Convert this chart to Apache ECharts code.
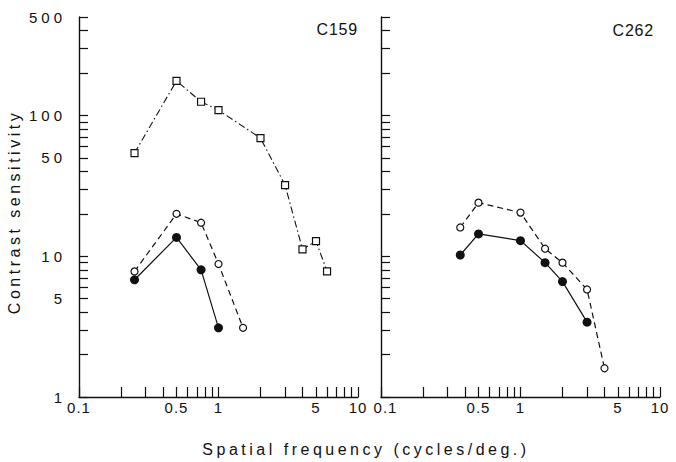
<!DOCTYPE html>
<html>
<head>
<meta charset="utf-8">
<script src="https://cdn.jsdelivr.net/npm/echarts@6/dist/echarts.min.js"></script>
<style>
  html, body { margin: 0; padding: 0; background: #fff; }
  #chart { width: 676px; height: 462px; }
  #chart text { letter-spacing: 1px; }
  #chart text[text-anchor="end"] { letter-spacing: 4px; }
</style>
</head>
<body>
<div id="chart"></div>
<script>
// Cell C159 (left panel)
const c159SquareFreq = [0.25, 0.5, 0.75, 1, 2, 3, 4, 5, 6];
const c159SquareSens = [54, 176, 125, 109, 69, 32, 11.2, 12.8, 7.8];
const c159OpenFreq = [0.25, 0.5, 0.75, 1, 1.5];
const c159OpenSens = [7.8, 20, 17.3, 8.8, 3.1];
const c159FilledFreq = [0.25, 0.5, 0.75, 1];
const c159FilledSens = [6.8, 13.6, 8.0, 3.1];

// Cell C262 (right panel)
const c262OpenFreq = [0.37, 0.5, 1, 1.5, 2, 3, 4];
const c262OpenSens = [16, 24, 20.4, 11.3, 9.0, 5.8, 1.6];
const c262FilledFreq = [0.37, 0.5, 1, 1.5, 2, 3];
const c262FilledSens = [10.2, 14.4, 12.9, 9.0, 6.6, 3.4];

// Tick labels
const freqLabels = [0.1, 0.5, 1, 5, 10];
const sensLabels = [1, 5, 10, 50, 100, 500];
const panelNames = ['C159', 'C262'];
const xTitle = 'Spatial frequency (cycles/deg.)';
const yTitle = 'Contrast sensitivity';

// log-cycle tick marks: 1..9 times each decade, clipped to hi
function logTicks(loExp, hiExp, hi) {
  const out = [];
  for (let e = loExp; e <= hiExp; e++) {
    for (let k = 1; k <= 9; k++) {
      const v = e < 0 ? k / Math.pow(10, -e) : k * Math.pow(10, e);
      if (v <= hi + 1e-9) out.push(v);
    }
  }
  return out;
}
const freqTicks = logTicks(-1, 1, 10);
const sensTicks = logTicks(0, 2, 500);

const INK = '#111';
const FONT = 'Liberation Sans, Arial, sans-serif';
const fmt = v => String(+Number(v).toPrecision(3));
// the right panel's first label is nudged off the left panel's "10"
const fmtRight = v => (Math.abs(v - freqLabels[0]) < 1e-9 ? '{first|' + fmt(v) + '}' : fmt(v));

function xAxisFor(grid) {
  return {
    type: 'log', logBase: 10, gridIndex: grid, min: 0.1, max: 10,
    axisLine: { lineStyle: { color: INK, width: 1.4 } },
    axisTick: { inside: true, length: 10, customValues: freqTicks, lineStyle: { color: INK, width: 1.2 } },
    axisLabel: {
      customValues: freqLabels, formatter: grid === 0 ? fmt : fmtRight,
      color: INK, fontSize: 15, fontFamily: FONT, margin: 3,
      rich: { first: { color: INK, fontSize: 15, fontFamily: FONT, padding: [0, 0, 0, 9] } }
    },
    splitLine: { show: false }
  };
}
function yAxisFor(grid, labels) {
  return {
    type: 'log', logBase: 10, gridIndex: grid, min: 1, max: 500,
    axisLine: { lineStyle: { color: INK, width: 1.4 } },
    axisTick: { inside: true, length: 9, customValues: sensTicks, lineStyle: { color: INK, width: 1.2 } },
    axisLabel: { show: labels, customValues: sensLabels, formatter: fmt, color: INK, fontSize: 15, fontFamily: FONT, margin: 13 },
    splitLine: { show: false }
  };
}

const zip = (xs, ys) => xs.map((x, i) => [x, ys[i]]);

function squares(grid, xs, ys) {
  return {
    type: 'line', xAxisIndex: grid, yAxisIndex: grid, data: zip(xs, ys),
    symbol: 'rect', symbolSize: 7,
    itemStyle: { color: '#fff', borderColor: INK, borderWidth: 1.2 },
    lineStyle: { color: INK, width: 1.1, type: [7, 3, 1.5, 3] }, z: 3
  };
}
function openCircles(grid, xs, ys) {
  return {
    type: 'line', xAxisIndex: grid, yAxisIndex: grid, data: zip(xs, ys),
    symbol: 'circle', symbolSize: 7,
    itemStyle: { color: '#fff', borderColor: INK, borderWidth: 1.2 },
    lineStyle: { color: INK, width: 1.2, type: [6, 4] }, z: 3
  };
}
function filledCircles(grid, xs, ys) {
  return {
    type: 'line', xAxisIndex: grid, yAxisIndex: grid, data: zip(xs, ys),
    symbol: 'circle', symbolSize: 9,
    itemStyle: { color: INK, borderColor: INK, borderWidth: 0 },
    lineStyle: { color: INK, width: 1.2, type: 'solid' }, z: 4
  };
}

function label(text, x, y, size, align, rotation) {
  return {
    type: 'text', x: x, y: y, rotation: rotation || 0,
    style: {
      text: text, fill: INK, font: size + 'px ' + FONT,
      align: align, verticalAlign: 'middle',
      textAlign: align, textVerticalAlign: 'middle'
    }
  };
}

const chart = echarts.init(document.getElementById('chart'), null, { renderer: 'svg' });
chart.setOption({
  animation: false,
  backgroundColor: '#fff',
  grid: [
    { left: 79, top: 17, width: 279, height: 380 },
    { left: 381, top: 17, width: 279, height: 380 }
  ],
  xAxis: [xAxisFor(0), xAxisFor(1)],
  yAxis: [yAxisFor(0, true), yAxisFor(1, false)],
  series: [
    squares(0, c159SquareFreq, c159SquareSens),
    openCircles(0, c159OpenFreq, c159OpenSens),
    filledCircles(0, c159FilledFreq, c159FilledSens),
    openCircles(1, c262OpenFreq, c262OpenSens),
    filledCircles(1, c262FilledFreq, c262FilledSens)
  ],
  graphic: [
    label(xTitle, 366, 449, 16, 'center'),
    label(yTitle, 14, 212, 16, 'center', Math.PI / 2),
    label(panelNames[0], 358, 29, 16, 'right'),
    label(panelNames[1], 654, 30, 16, 'right')
  ]
});

// axis titles are widely spaced, panel names set tight
function spaceTexts() {
  document.querySelectorAll('#chart text').forEach(t => {
    const s = t.textContent.trim();
    if (s === xTitle || s === yTitle) t.style.letterSpacing = '3.5px';
    else if (panelNames.indexOf(s) >= 0) t.style.letterSpacing = '0.8px';
  });
}
chart.on('finished', spaceTexts);
spaceTexts();
</script>
</body>
</html>
